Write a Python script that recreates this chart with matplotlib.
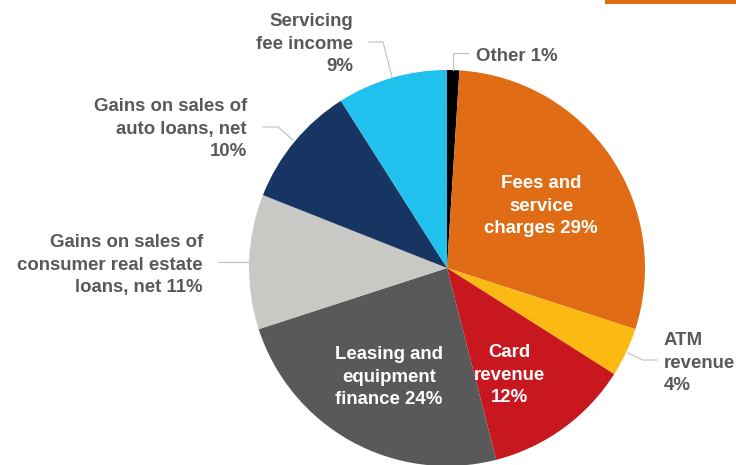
import matplotlib
matplotlib.use("Agg")
import matplotlib.pyplot as plt
from matplotlib.patches import Rectangle

labels = ["Other 1%", "Fees and\nservice\ncharges 29%", "ATM\nrevenue\n4%", "Card\nrevenue\n12%",
          "Leasing and\nequipment\nfinance 24%", "Gains on sales of\nconsumer real estate\nloans, net 11%",
          "Gains on sales of\nauto loans, net\n10%", "Servicing\nfee income\n9%"]
values = [1, 29, 4, 12, 24, 11, 10, 9]
colors = ["#000000", "#E06D16", "#FDB913", "#C8171F", "#595959", "#C8C8C4", "#163563", "#20C1EC"]

W, H = 736, 465
fig = plt.figure(figsize=(W / 100, H / 100), dpi=100)
ax = fig.add_axes([0, 0, 1, 1])

cx, cy, r = 447, H - 268, 198
ax.pie(values, colors=colors, startangle=90, counterclock=False, center=(cx, cy), radius=r,
       wedgeprops=dict(linewidth=0), frame=True)
ax.set_xlim(0, W)
ax.set_ylim(0, H)
ax.set_aspect("equal")
ax.axis("off")

font = dict(family="Liberation Sans", fontweight="bold", fontsize=13.4, linespacing=1.42)
grey = "#595959"

def Y(y):
    return H - y

# inside labels
ax.text(541, Y(206), labels[1], color="white", ha="center", va="center", **font)
ax.text(509, Y(375), labels[3], color="white", ha="center", va="center", **font)
ax.text(389, Y(377), labels[4], color="white", ha="center", va="center", **font)

# outside labels
ax.text(476, Y(56), labels[0], color=grey, ha="left", va="center", **font)
ax.text(664, Y(363), labels[2], color=grey, ha="left", va="center", multialignment="left", **font)
ax.text(353, Y(44), labels[7], color=grey, ha="right", va="center", multialignment="right", **font)
ax.text(247, Y(129), labels[6], color=grey, ha="right", va="center", multialignment="right", **font)
ax.text(203, Y(265), labels[5], color=grey, ha="right", va="center", multialignment="right", **font)

lc = "#BFBFBF"
lw = 0.8
ax.plot([468, 453, 453], [Y(53), Y(53), Y(70)], color=lc, lw=lw)
ax.plot([369, 383, 392], [Y(42), Y(42), Y(77)], color=lc, lw=lw)
ax.plot([263, 278, 293], [Y(127), Y(127), Y(140)], color=lc, lw=lw)
ax.plot([218, 248], [Y(262), Y(262)], color=lc, lw=lw)
ax.plot([628, 643, 657], [Y(353), Y(360), Y(360)], color=lc, lw=lw)

# orange accent bar at top right
ax.add_patch(Rectangle((605, Y(4)), W - 605, 4, color="#E06D16", lw=0))

fig.savefig("out.png", dpi=100)
